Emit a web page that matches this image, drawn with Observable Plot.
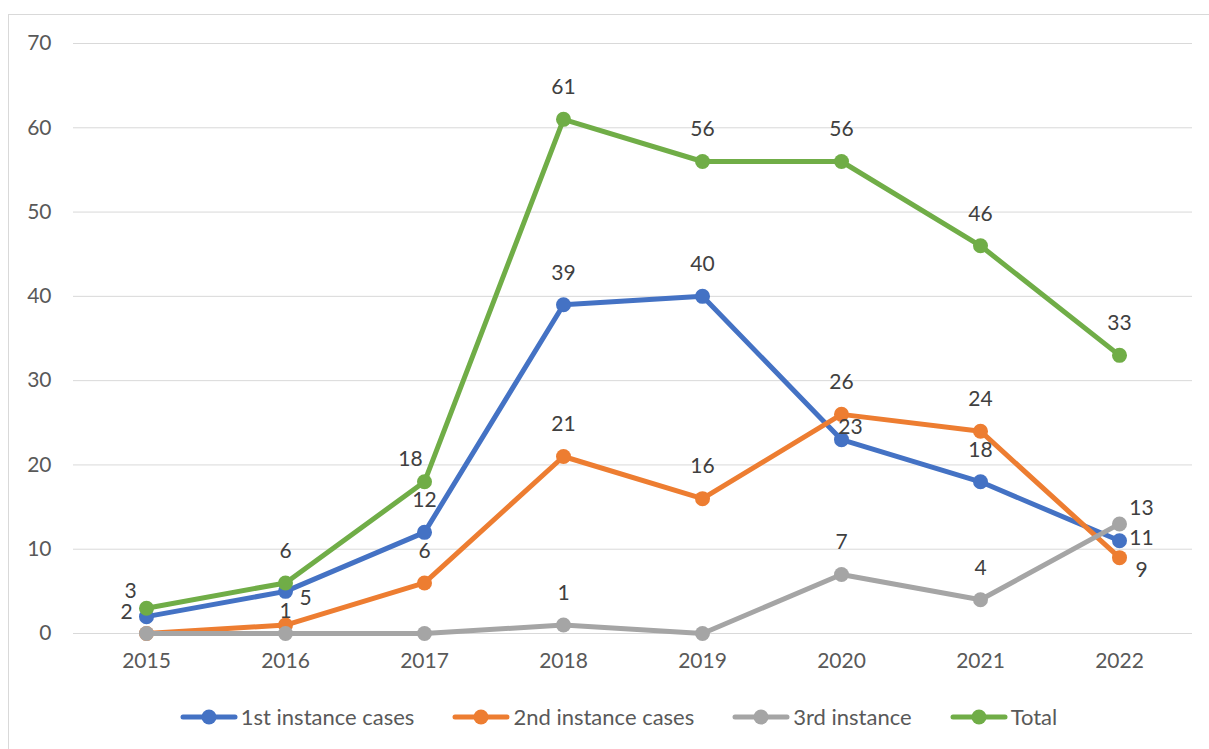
<!DOCTYPE html>
<html>
<head>
<meta charset="utf-8">
<script src="https://cdn.jsdelivr.net/npm/d3@7"></script>
<script src="https://cdn.jsdelivr.net/npm/@observablehq/plot@0.6"></script>
<style>
  html, body { margin: 0; padding: 0; background: #fff; overflow: hidden; }
  body { width: 1209px; height: 749px; position: relative; font-family: Lato, "Open Sans", sans-serif; }
  #frame { position: absolute; left: 8px; top: 14px; width: 1300px; height: 800px; border: 1px solid #d9d9d9; box-sizing: border-box; }
  #chart { position: absolute; left: 0; top: 0; }
  #legend { position: absolute; left: 14px; top: 701px; width: 1209px; display: flex; justify-content: center; font-size: 22px; color: #595959; line-height: 32px; }
  .item { display: flex; align-items: center; margin: 0 19px; }
  .item svg { margin-right: 3px; }
</style>
</head>
<body>
<div id="frame"></div>
<div id="chart"></div>
<div id="legend"></div>
<script>
const years = ["2015", "2016", "2017", "2018", "2019", "2020", "2021", "2022"];
const seriesNames = ["1st instance cases", "2nd instance cases", "3rd instance", "Total"];
const firstInstance = [2, 5, 12, 39, 40, 23, 18, 11];
const secondInstance = [0, 1, 6, 21, 16, 26, 24, 9];
const thirdInstance = [0, 0, 0, 1, 0, 7, 4, 13];
const totalCases = [3, 6, 18, 61, 56, 56, 46, 33];
const yTicks = [0, 10, 20, 30, 40, 50, 60, 70];
const colors = ["#4472C4", "#ED7D31", "#A5A5A5", "#70AD47"];

const seriesValues = [firstInstance, secondInstance, thirdInstance, totalCases];
const rows = [];
seriesNames.forEach((s, si) => {
  seriesValues[si].forEach((v, i) => rows.push({series: s, si, year: years[i], yi: i, value: v}));
});

// label placement (default: above the point)
function labelOffset(d) {
  const key = d.si + ":" + d.year;
  const special = {
    "3:2015": [-16, -17],
    "0:2015": [-20, -4],
    "0:2016": [20, 7],
    "1:2016": [0, -14],
    "3:2017": [-14, -23],
    "0:2020": [9, -12],
    "2:2022": [22, -16],
    "0:2022": [22, -3],
    "1:2022": [22, 13]
  };
  return special[key] || [0, -32];
}
const labelRows = rows.filter(d => !((d.si === 1 || d.si === 2) && d.value === 0));
labelRows.forEach(d => { const o = labelOffset(d); d.dx = o[0]; d.dy = o[1]; });

const textMarks = labelRows.map(d => Plot.text([d], {
  x: "year", y: "value", text: d => String(d.value),
  dx: d.dx, dy: d.dy, fill: "#404040", fontSize: 21
}));

const chart = Plot.plot({
  width: 1209,
  height: 690,
  marginTop: 43,
  marginBottom: 57,
  marginLeft: 73,
  marginRight: 17,
  style: {fontFamily: "Lato, 'Open Sans', sans-serif", background: "transparent", overflow: "visible"},
  x: {type: "point", domain: years, padding: 0.5, label: null},
  y: {domain: [0, 70], label: null},
  marks: [
    Plot.ruleY(yTicks, {stroke: "#d9d9d9", strokeWidth: 1}),
    Plot.axisY({ticks: yTicks, tickSize: 0, tickPadding: 22, fontSize: 21, fill: "#595959", label: null}),
    Plot.axisX({tickSize: 0, tickPadding: 20, fontSize: 21, fill: "#595959", label: null}),
    ...seriesNames.flatMap((s, si) => [
      Plot.line(rows.filter(d => d.si === si), {x: "year", y: "value", stroke: colors[si], strokeWidth: 5, strokeLinejoin: "round", strokeLinecap: "round"}),
      Plot.dot(rows.filter(d => d.si === si), {x: "year", y: "value", fill: colors[si], r: 7.5, stroke: "none"})
    ]),
    ...textMarks
  ]
});
document.getElementById("chart").appendChild(chart);

const legend = document.getElementById("legend");
seriesNames.forEach((s, si) => {
  const item = document.createElement("div");
  item.className = "item";
  item.innerHTML = `<svg width="58" height="20"><line x1="3" y1="10" x2="55" y2="10" stroke="${colors[si]}" stroke-width="5" stroke-linecap="round"/><circle cx="29" cy="10" r="7.5" fill="${colors[si]}"/></svg><span>${s}</span>`;
  legend.appendChild(item);
});
</script>
</body>
</html>
